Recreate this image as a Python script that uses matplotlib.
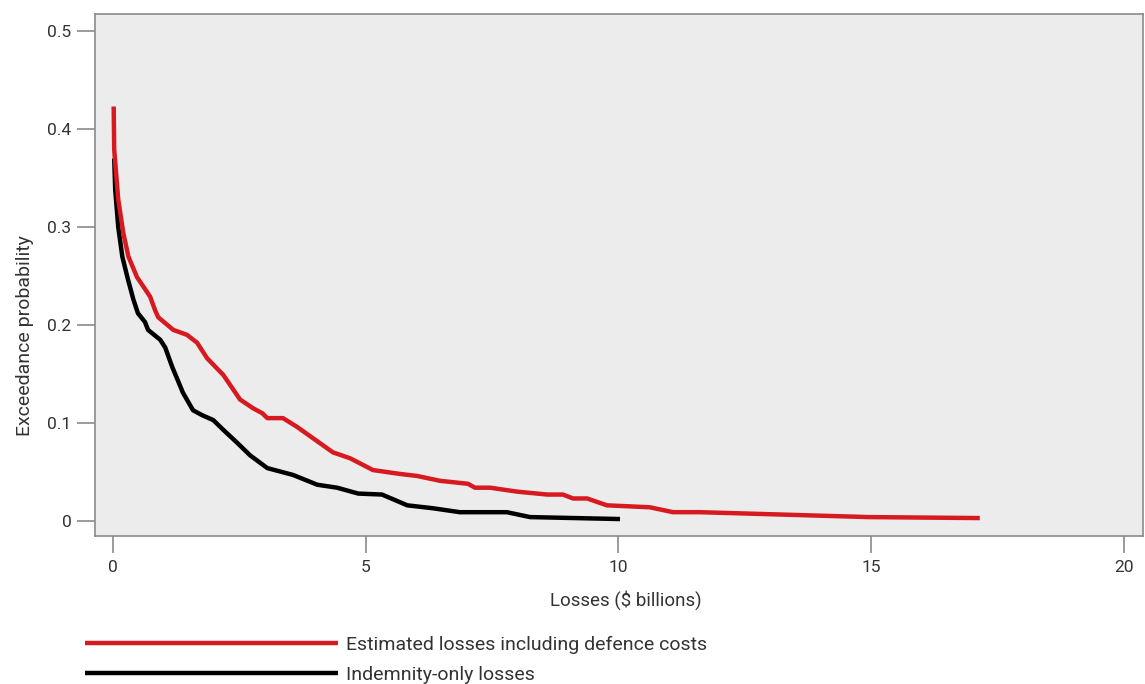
import matplotlib
matplotlib.use("Agg")
import matplotlib.pyplot as plt

# Data
red_x = [0.01, 0.02, 0.10, 0.20, 0.30, 0.47, 0.73, 0.83, 0.89, 1.19, 1.46, 1.66, 1.86,
         2.18, 2.51, 2.77, 2.95, 3.05, 3.36, 3.64, 4.35, 4.69, 5.14, 5.68, 6.01, 6.47,
         7.02, 7.16, 7.46, 7.99, 8.59, 8.90, 9.10, 9.38, 9.77, 10.62, 11.08, 11.61,
         14.95, 17.15]
red_y = [0.423, 0.379, 0.328, 0.294, 0.270, 0.249, 0.229, 0.215, 0.208, 0.195, 0.190,
         0.182, 0.166, 0.149, 0.124, 0.115, 0.110, 0.105, 0.105, 0.096, 0.070, 0.064,
         0.052, 0.048, 0.046, 0.041, 0.038, 0.034, 0.034, 0.030, 0.027, 0.027, 0.023,
         0.023, 0.016, 0.014, 0.009, 0.009, 0.004, 0.003]

black_x = [0.02, 0.04, 0.10, 0.18, 0.28, 0.40, 0.49, 0.63, 0.69, 0.93, 1.03, 1.17,
           1.38, 1.58, 1.76, 1.98, 2.18, 2.45, 2.71, 3.05, 3.56, 4.04, 4.43, 4.85, 5.32,
           5.82, 6.33, 6.86, 7.26, 7.79, 8.25, 10.03]
black_y = [0.370, 0.338, 0.300, 0.270, 0.249, 0.226, 0.212, 0.203, 0.195, 0.185,
           0.177, 0.157, 0.131, 0.113, 0.108, 0.103, 0.093, 0.080, 0.067, 0.054, 0.047,
           0.037, 0.034, 0.028, 0.027, 0.016, 0.013, 0.009, 0.009, 0.009, 0.004, 0.002]

x_ticks = [0, 5, 10, 15, 20]
y_ticks = [0, 0.1, 0.2, 0.3, 0.4, 0.5]
y_tick_labels = ["0", "0.1", "0.2", "0.3", "0.4", "0.5"]

label_red = "Estimated losses including defence costs"
label_black = "Indemnity-only losses"

plt.rcParams['font.family'] = ['Roboto', 'DejaVu Sans']

W, H = 1145, 684
fig = plt.figure(figsize=(W / 100, H / 100), dpi=100)
ax = fig.add_axes([95 / W, 1 - 536 / H, (1143 - 95) / W, (536 - 14) / H])
ax.set_facecolor('#ececec')

red_col = '#d71920'
l1, = ax.plot(red_x, red_y, color=red_col, lw=3.2, solid_joinstyle='round',
              solid_capstyle='butt', label=label_red, zorder=3)
l2, = ax.plot(black_x, black_y, color='black', lw=3.2, solid_joinstyle='round',
              solid_capstyle='butt', label=label_black, zorder=2)

ax.set_xlim(-0.36, 20.38)
ax.set_ylim(-0.0153, 0.5174)

ax.set_xticks(x_ticks)
ax.set_xticklabels([str(t) for t in x_ticks])
ax.set_yticks(y_ticks)
ax.set_yticklabels(y_tick_labels)

for s in ax.spines.values():
    s.set_color('#8a8a8a')
    s.set_linewidth(1.2)

txt_col = '#333333'
ax.tick_params(axis='y', direction='out', length=13, width=1.2, color='#8a8a8a',
               labelsize=12.5, labelcolor=txt_col, pad=4)
ax.tick_params(axis='x', direction='out', length=12, width=1.2, color='#8a8a8a',
               labelsize=12.5, labelcolor=txt_col, pad=5)

fig.text(25 / W, 1 - 336 / H, "Exceedance probability", rotation=90, ha='center', va='center',
         fontsize=14, color=txt_col)
fig.text(626 / W, 1 - 600 / H, "Losses ($ billions)", ha='center', va='center',
         fontsize=13.5, color=txt_col)

leg = fig.legend(handles=[l1, l2], loc='upper left', bbox_to_anchor=(85 / W, 1 - 636 / H),
                 frameon=False, borderpad=0, borderaxespad=0, handlelength=13.0,
                 handletextpad=0.4, labelspacing=0.62, fontsize=14)
for t in leg.get_texts():
    t.set_color(txt_col)

fig.savefig('out.png', dpi=100)
